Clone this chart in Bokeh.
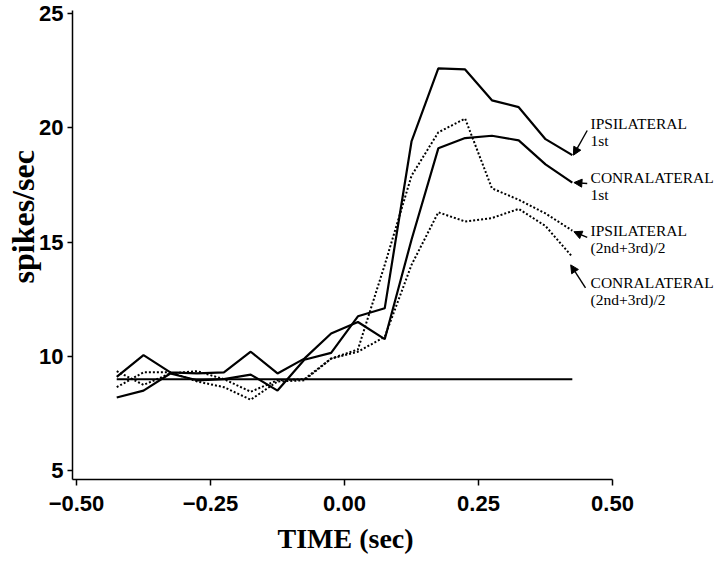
from bokeh.plotting import figure
from bokeh.models import Arrow, NormalHead, FixedTicker, ColumnDataSource, Range1d, Title
from bokeh.core.properties import value
from bokeh.embed import file_html
from bokeh.resources import INLINE

# ---------------- data ----------------
time_sec = [-0.425, -0.375, -0.325, -0.275, -0.225, -0.175, -0.125, -0.075, -0.025,
            0.025, 0.075, 0.125, 0.175, 0.225, 0.275, 0.325, 0.375, 0.425]
ipsi_1st = [8.2, 8.5, 9.25, 8.95, 9.0, 9.2, 8.5, 9.85, 10.15, 11.75, 12.1, 19.4,
            22.6, 22.55, 21.2, 20.9, 19.5, 18.8]
conra_1st = [9.1, 10.05, 9.3, 9.25, 9.3, 10.2, 9.25, 9.9, 11.0, 11.5, 10.75, 15.1,
             19.1, 19.55, 19.65, 19.45, 18.4, 17.6]
ipsi_23 = [8.65, 9.3, 9.3, 8.9, 8.65, 8.1, 8.9, 8.95, 9.9, 10.3, 14.0, 17.9,
           19.8, 20.4, 17.35, 16.85, 16.25, 15.5]
conra_23 = [9.35, 8.75, 9.25, 9.35, 9.0, 8.45, 8.95, 9.0, 9.9, 10.2, 10.85, 14.0,
            16.3, 15.9, 16.05, 16.45, 15.7, 14.35]
baseline_rate = 9.0

x_ticks = [-0.5, -0.25, 0.0, 0.25, 0.5]
x_tick_labels = ["\u22120.50", "\u22120.25", "0.00", "0.25", "0.50"]
y_ticks = [5, 10, 15, 20, 25]

label_lines = ["IPSILATERAL", "1st", "CONRALATERAL", "1st",
               "IPSILATERAL", "(2nd+3rd)/2", "CONRALATERAL", "(2nd+3rd)/2"]
x_title = "TIME (sec)"
y_title = "spikes/sec"

# ---------------- figure ----------------
p = figure(width=718, height=560, output_backend="svg", toolbar_location=None,
           x_range=Range1d(-0.5075, 0.694), y_range=Range1d(4.61, 25.13),
           min_border_left=72, min_border_right=2, min_border_top=10,
           min_border_bottom=80)
p.outline_line_color = None
p.grid.visible = False
p.background_fill_color = "white"
p.border_fill_color = "white"

# series
p.line(time_sec, ipsi_1st, line_color="black", line_width=2.2)
p.line(time_sec, conra_1st, line_color="black", line_width=2.2)
p.line(time_sec, ipsi_23, line_color="black", line_width=2.0, line_dash="2 2")
p.line(time_sec, conra_23, line_color="black", line_width=2.0, line_dash="2 2")
p.line([time_sec[0], time_sec[-1]], [baseline_rate, baseline_rate],
       line_color="black", line_width=2.0)

# axes
for ax in (p.xaxis[0], p.yaxis[0]):
    ax.axis_line_color = "black"
    ax.axis_line_width = 1.5
    ax.major_tick_line_color = "black"
    ax.major_tick_line_width = 1.5
    ax.major_tick_in = 0
    ax.minor_tick_line_color = None
    ax.major_label_text_font = "Liberation Sans"
    ax.major_label_text_font_style = "bold"
    ax.major_label_text_font_size = "22px"
    ax.major_label_text_color = "black"

p.xaxis.ticker = FixedTicker(ticks=x_ticks)
p.xaxis.major_label_overrides = dict(zip(x_ticks, x_tick_labels))
p.xaxis.bounds = (-0.5075, 0.5)
p.xaxis.major_tick_out = 6
p.xaxis.major_label_standoff = 10

p.yaxis.ticker = FixedTicker(ticks=y_ticks)
p.yaxis.major_tick_out = 5
p.yaxis.major_label_standoff = 4

# axis titles as side-panel titles, shifted to their places
p.add_layout(Title(text=x_title, align="left", offset=205, standoff=14,
                   text_font="Liberation Serif", text_font_style="bold",
                   text_font_size="28px", text_color="black"), "below")
p.add_layout(Title(text=y_title, align="left", offset=196, standoff=-8,
                   text_font="Liberation Serif", text_font_style="bold",
                   text_font_size="32px", text_color="black"), "left")

# annotation text
label_x = [0.459] * 8
label_y = [20.17, 19.45, 17.82, 17.10, 15.52, 14.78, 13.21, 12.47]
src = ColumnDataSource(dict(x=label_x, y=label_y, t=label_lines))
p.text(x="x", y="y", text="t", source=src, text_font=value("Liberation Serif"),
       text_font_size="15.5px", text_baseline="middle", text_align="left",
       text_color="black")

# arrows pointing to the series ends
arrow_starts = [(0.4528, 19.88), (0.4528, 17.56), (0.4528, 15.2), (0.4496, 12.99)]
arrow_ends = [(time_sec[-1] + 0.002, ipsi_1st[-1]),
              (time_sec[-1] + 0.003, conra_1st[-1]),
              (time_sec[-1] + 0.003, ipsi_23[-1] - 0.05),
              (time_sec[-1] - 0.003, conra_23[-1] - 0.35)]
for (xs, ys), (xe, ye) in zip(arrow_starts, arrow_ends):
    p.add_layout(Arrow(end=NormalHead(size=8, fill_color="black", line_color="black",
                                      line_width=1),
                       x_start=xs, y_start=ys, x_end=xe, y_end=ye,
                       line_color="black", line_width=1.4))

open("out.html", "w").write(file_html(p, INLINE))
